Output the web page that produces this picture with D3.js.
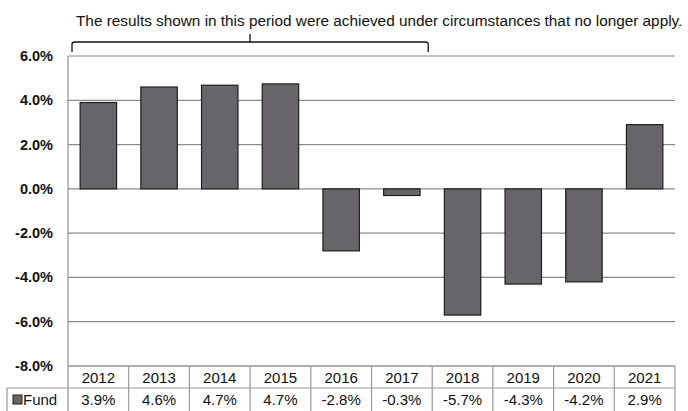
<!DOCTYPE html>
<html>
<head>
<meta charset="utf-8">
<script src="https://cdn.jsdelivr.net/npm/d3@7"></script>
<style>
  body { margin: 0; background: #fff; }
  svg { display: block; font-family: "Liberation Sans", Arial, sans-serif; }
</style>
</head>
<body>
<div id="chart"></div>
<script>
var years  = ["2012", "2013", "2014", "2015", "2016", "2017", "2018", "2019", "2020", "2021"];
var fund   = [3.9, 4.6, 4.68, 4.74, -2.8, -0.3, -5.7, -4.3, -4.2, 2.9];
var yTicks = [6, 4, 2, 0, -2, -4, -6, -8];
var seriesName = "Fund";
var note = "The results shown in this period were achieved under circumstances that no longer apply.";
var bracketYears = ["2012", "2017"];

var W = 688, H = 411;
var plot = { left: 68, right: 675, top: 56, bottom: 366 };
var rowH = 22;

var svg = d3.select("#chart").append("svg").attr("width", W).attr("height", H);

var x = d3.scaleBand().domain(years).range([plot.left, plot.right]).paddingInner(0.4).paddingOuter(0.2);
var col = d3.scaleBand().domain(years).range([plot.left, plot.right]);
var y = d3.scaleLinear().domain([-8, 6]).range([plot.bottom, plot.top]);

// gridlines
svg.append("g").selectAll("line").data(yTicks).enter().append("line")
  .attr("x1", plot.left).attr("x2", plot.right)
  .attr("y1", function(d){ return y(d); }).attr("y2", function(d){ return y(d); })
  .attr("stroke", "#8c8c8c").attr("stroke-width", 1.2);

// y labels
svg.append("g").selectAll("text").data(yTicks).enter().append("text")
  .attr("x", 53).attr("y", function(d){ return y(d) + 5; })
  .attr("text-anchor", "end").attr("font-size", 14.5).attr("font-weight", "bold").attr("fill", "#111")
  .text(function(d){ return d.toFixed(1) + "%"; });

// bars
svg.append("g").selectAll("rect").data(fund).enter().append("rect")
  .attr("x", function(d, i){ return x(years[i]); })
  .attr("width", x.bandwidth())
  .attr("y", function(d){ return y(Math.max(0, d)); })
  .attr("height", function(d){ return Math.abs(y(d) - y(0)); })
  .attr("fill", "#67656a").attr("stroke", "#1e1e1e").attr("stroke-width", 1.2);

// left axis line
svg.append("line").attr("x1", plot.left).attr("x2", plot.left)
  .attr("y1", plot.top).attr("y2", H)
  .attr("stroke", "#8c8c8c").attr("stroke-width", 1.2);

// data table
var t1 = plot.bottom, t2 = plot.bottom + rowH, t3 = H + 2;
var tg = svg.append("g");
var grid = "#9a9a9a";
tg.append("line").attr("x1", plot.left).attr("x2", plot.right).attr("y1", t1).attr("y2", t1).attr("stroke", grid).attr("stroke-width", 1.2);
tg.append("line").attr("x1", 7).attr("x2", plot.right).attr("y1", t2).attr("y2", t2).attr("stroke", grid).attr("stroke-width", 1.2);
tg.selectAll("line.v").data(years).enter().append("line").attr("class", "v")
  .attr("x1", function(d){ return col(d) + col.bandwidth(); })
  .attr("x2", function(d){ return col(d) + col.bandwidth(); })
  .attr("y1", t1).attr("y2", t3).attr("stroke", grid).attr("stroke-width", 1.2);
tg.append("line").attr("x1", 7).attr("x2", 7).attr("y1", t2).attr("y2", t3).attr("stroke", grid).attr("stroke-width", 1.2);

tg.selectAll("text.yr").data(years).enter().append("text").attr("class", "yr")
  .attr("x", function(d){ return col(d) + col.bandwidth() / 2; })
  .attr("y", t1 + 16.5).attr("text-anchor", "middle").attr("font-size", 15).attr("fill", "#111")
  .text(function(d){ return d; });
tg.selectAll("text.val").data(fund).enter().append("text").attr("class", "val")
  .attr("x", function(d, i){ return col(years[i]) + col.bandwidth() / 2; })
  .attr("y", t2 + 16.5).attr("text-anchor", "middle").attr("font-size", 15).attr("fill", "#111")
  .text(function(d){ return d.toFixed(1) + "%"; });

tg.append("rect").attr("x", 13).attr("y", t2 + 7).attr("width", 9).attr("height", 9)
  .attr("fill", "#67656a").attr("stroke", "#1e1e1e").attr("stroke-width", 1);
tg.append("text").attr("x", 23).attr("y", t2 + 16.5).attr("font-size", 15).attr("fill", "#111").text(seriesName);

// bracket + note
var bx1 = col(bracketYears[0]) + 4, bx2 = col(bracketYears[1]) + col.bandwidth() - 4;
var bmid = 250, by = 42;
svg.append("path")
  .attr("d", "M" + bx1 + "," + (by + 10) + " L" + bx1 + "," + (by + 2) + " Q" + bx1 + "," + by + " " + (bx1 + 3) + "," + by +
    " L" + (bx2 - 3) + "," + by + " Q" + bx2 + "," + by + " " + bx2 + "," + (by + 2) + " L" + bx2 + "," + (by + 10) +
    " M" + bmid + "," + by + " L" + bmid + "," + (by - 8))
  .attr("fill", "none").attr("stroke", "#111").attr("stroke-width", 1.3);

var noteText = svg.append("text").attr("x", 76).attr("y", 26).attr("font-size", 13).attr("fill", "#111").text(note);
var natural = noteText.node().getComputedTextLength();
noteText.attr("font-size", 13 * 607 / natural);
</script>
</body>
</html>
